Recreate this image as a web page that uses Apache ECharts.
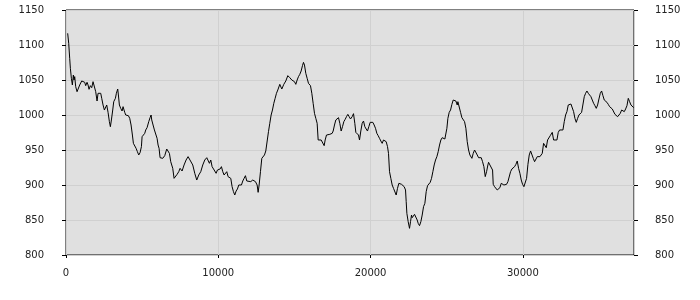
<!DOCTYPE html>
<html><head><meta charset="utf-8">
<script src="https://cdn.jsdelivr.net/npm/echarts@6/dist/echarts.min.js"></script>
<style>html,body{margin:0;padding:0;background:#fff}#c{width:700px;height:300px}</style>
</head><body><div id="c"></div>
<script>
var xValues = [110,178,243,287,353,418,484,528,572,637,725,791,900,1032,1119,1229,1294,1382,1448,1513,1601,1689,1776,1886,1951,2039,2105,2214,2280,2346,2433,2521,2608,2674,2762,2849,2915,2981,3068,3134,3244,3309,3397,3441,3506,3594,3682,3747,3791,3857,3922,4010,4098,4185,4273,4360,4426,4514,4601,4689,4777,4864,4952,4996,5105,5171,5236,5324,5390,5434,5521,5587,5631,5718,5806,5893,5981,6047,6112,6178,
6353,6484,6616,6703,6791,6878,7010,7097,7185,7295,7404,7492,7623,7754,7886,8017,8105,8214,8324,8455,8587,8718,8849,8981,9112,9244,9331,9419,9506,9594,9682,9769,9857,9944,10032,10120,10207,10295,10382,10470,10558,10645,10733,10820,10908,10996,11083,11171,11258,11346,11434,11521,11609,11696,11784,11872,12003,12134,12266,12353,12441,
12463,12551,12617,12682,12770,12858,12945,13033,13120,13208,13296,13383,13471,13558,13646,13734,13821,13909,14040,14172,14303,14434,14566,14697,14829,14916,15004,15091,15179,15267,15354,15442,15529,15595,15661,15748,15836,15924,16055,16143,16230,16318,16405,16493,16559,16668,16756,16843,16887,16953,17019,17106,17194,17325,17479,17544,17632,17719,17807,17895,17982,18070,18157,18245,18333,18420,18508,18595,18683,
18792,18880,18967,19033,19121,19208,19274,19361,19449,19537,19624,19712,19799,19887,19975,20062,20150,20237,20325,20413,20500,20588,20675,20763,20851,20938,21026,21113,21179,21245,21332,21420,21508,21595,21683,21770,21858,21946,22033,22121,22208,22296,22340,22384,22471,22559,22625,22690,22734,22822,22887,22975,23063,23128,23216,23304,23391,23479,23566,23654,23742,23829,23917,24004,24092,24179,24267,24355,24442,24530,24617,24705,24793,24880,
24946,25012,25078,25165,25253,25341,25428,25516,25603,25691,25735,25822,25910,25998,26085,26173,26260,26348,26436,26523,26655,26742,26830,26917,27005,27093,27180,27268,27355,27443,27531,27618,27706,27750,27837,27925,28012,28056,28144,28231,28319,28407,28494,28582,28669,28757,28845,28932,29020,29107,29195,29283,29370,29458,29545,29633,29721,29808,29896,29983,30071,30159,30246,30334,30421,30509,30597,30684,30772,30859,30947,31035,31122,
31187,31275,31363,31450,31538,31625,31713,31801,31932,32020,32151,32239,32326,32414,32545,32633,32720,32808,32896,32983,33071,33158,33246,33334,33421,33509,33596,33684,33772,33859,33947,34034,34122,34210,34297,34385,34472,34560,34648,34735,34823,34910,34998,35086,35173,35261,35348,35436,35524,35611,35699,35786,35874,35962,36049,36137,36224,36312,36400,36487,36575,36662,36750,36838,36925,37013,37100,37188,37276];
var yValues = [1116.7,1102.4,1081,1066.7,1052.4,1042.9,1057.1,1050,1054.8,1040.5,1033.3,1034.3,1042.9,1048.6,1050,1046.7,1041.9,1046.7,1042.9,1036.7,1041.9,1039,1047.6,1045.2,1033.3,1020,1031,1028.6,1031,1023.8,1014.3,1007.1,1007.1,1014.3,1003.8,990.5,983.3,992.9,1007.1,1019,1023.8,1031,1037.1,1028.6,1014.3,1009.5,1005.7,1011.9,1014.3,1003.8,1000,997.6,999,995.2,985.7,971.4,959.5,958.6,952.4,947.6,942.9,946.2,954.8,969,966.7,973.8,978.6,981.9,983.3,990.5,996.2,1000,992.9,985.7,978.6,977.1,966.7,957.1,952.4,939,
938.1,941.9,951.4,952.4,945.2,933.3,923.8,909.5,907.1,915.2,919,923.8,920,928.6,935.7,940.5,937.1,939,928.6,916.7,907.1,914.3,919,928.6,935.7,939,937.1,931,935.7,926.2,924.8,920,916.7,921.4,919,922.9,926.2,919,914.3,911.9,919,911.9,914.3,909.5,897.6,890.5,885.7,891.4,894.3,900,902.4,900,905.7,909.5,913.3,905.7,907.1,904.8,907.1,908.6,904.8,
907.1,900,889.5,900,919,938.1,940,942.9,948.6,950,976.2,988.1,1000,1007.1,1016.7,1023.8,1031,1035.7,1043.8,1037.1,1043.8,1048.6,1056.2,1053.3,1050,1052.4,1047.6,1043.8,1050,1054.8,1058.1,1062.9,1070.5,1075.2,1071.4,1059.5,1052.4,1045.2,1041.9,1031,1016.7,1002.4,995.2,988.1,964.3,964.3,964.3,966.7,962.9,956.2,964.3,971.4,972.4,972.4,973.8,977.1,985.7,992.9,995.2,996.2,988.1,977.1,983.3,990.5,993.8,997.6,1000.9,997.6,994.3,
997.6,1001.9,988.1,975.2,975.2,971.4,964.3,977.1,988.1,991.4,983.3,980,977.1,983.3,989.5,988.1,989.5,985.7,981,973.8,970.5,966.7,962.9,959.5,964.3,965.7,961.9,954.8,945.2,919,909.5,900,895.2,892.9,885.7,895.2,902.4,904.8,901,903.8,897.6,892.9,876.2,859.5,847.6,838.1,847.6,857.1,853.3,852.4,858.1,859,850,845.2,841.9,847.6,857.1,869,873.8,890.5,899,900,903.8,909.5,919,928.6,935.7,940.5,947.6,957.1,964.3,967.6,969,965.7,
966.7,981,995.2,1003.8,1007.1,1015.2,1021.4,1023.8,1020,1014.3,1019,1016.7,1003.8,996.2,996.2,990.5,981,961.9,950,942.9,938.1,945.2,950,948.6,942.9,939,939,939,933.3,926.2,912,919,928.6,932.4,928.6,926.2,921.4,901,897.6,896.2,892.9,890.5,896.2,902.4,903.8,900,900,901,904.8,907.1,919,922.9,922.9,926.2,929.5,934.3,923.8,916.7,907.1,901,897.6,900,909.5,929.5,942.9,948.6,947.6,938.1,933.3,931,940.5,942.9,940.5,
940.5,945.2,959.5,959.5,953.3,964.3,966.7,970.5,975.2,964.3,964.3,964.3,975.2,978.6,980,978.6,990.5,1000,1004.8,1014.3,1016.7,1015.7,1016.7,1004.8,995.2,989.5,995.2,1000,1001,1003.8,1005.7,1026.2,1031,1034.3,1031,1028.6,1026.2,1021.4,1016.7,1013.3,1009.5,1014.3,1022.9,1031,1034.3,1027.6,1021.4,1019,1018.1,1015.2,1011.9,1009.5,1008.6,1007.1,1001,1000,997.6,995.2,1002.4,1007.1,1008.6,1004.8,1008.6,1013.3,1023.8,1019,1014.3,1013.3,1010.5];
var xTicks = [0, 10000, 20000, 30000];
var yTicks = [800, 850, 900, 950, 1000, 1050, 1100, 1150];

var pairs = xValues.map(function (x, i) { return [x, yValues[i]]; });
var font = 'DejaVu Sans';
var plain = function (v) { return String(v); };
var chart = echarts.init(document.getElementById('c'), null, {renderer: 'canvas'});
function yAxisCfg(pos, margin) {
  return {
    type: 'value', position: pos, min: yTicks[0], max: yTicks[yTicks.length - 1], interval: 50,
    axisLine: {show: false},
    axisTick: {show: true, length: 4, lineStyle: {color: '#000'}},
    axisLabel: {margin: margin, color: '#222', fontFamily: font, fontSize: 10, formatter: plain},
    splitLine: {show: pos === 'left', lineStyle: {color: '#d0d0d0', width: 1}}
  };
}
chart.setOption({
  animation: false,
  grid: {left: 66, right: 66, top: 10, bottom: 45, show: true, backgroundColor: '#e0e0e0', borderColor: '#000', borderWidth: 1},
  xAxis: {
    type: 'value', min: xTicks[0], max: 37300, interval: 10000,
    axisLine: {show: false},
    axisTick: {show: true, length: 3, lineStyle: {color: '#000'}},
    axisLabel: {margin: 13, color: '#222', fontFamily: font, fontSize: 10, showMaxLabel: false, formatter: plain},
    splitLine: {show: true, lineStyle: {color: '#d0d0d0', width: 1}}
  },
  yAxis: [yAxisCfg('left', 22), yAxisCfg('right', 21)],
  series: [{
    type: 'line', data: pairs, showSymbol: false, symbol: 'none',
    lineStyle: {color: '#000', width: 1}, z: 5
  }]
});
</script></body></html>
